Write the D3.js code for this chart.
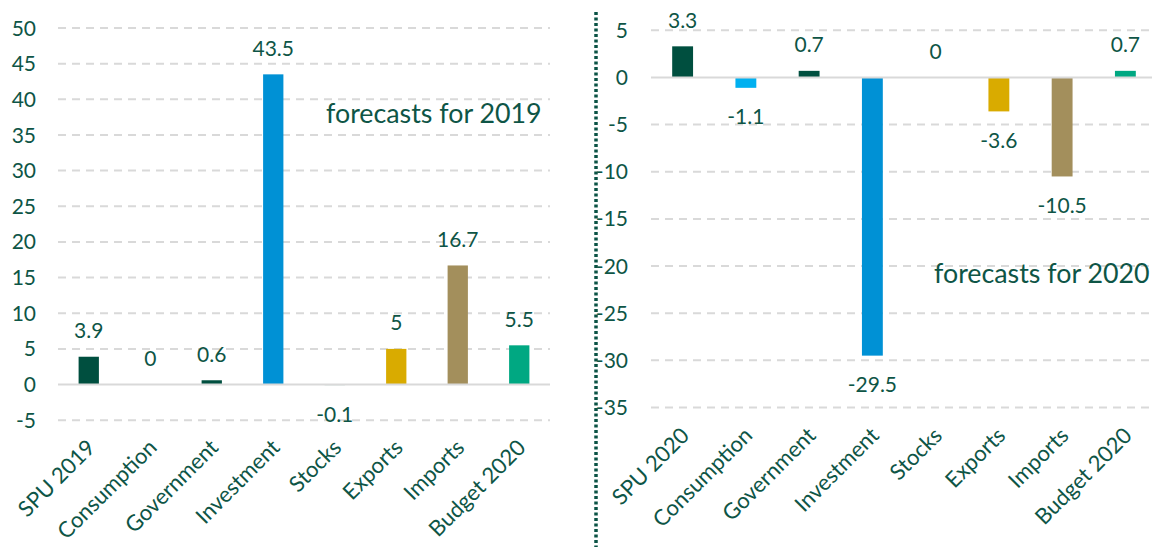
<!DOCTYPE html>
<html lang="en">
  <head>
    <meta charset="UTF-8" />
    <script src="https://d3js.org/d3.v7.min.js"></script>
    <title>Forecast contributions</title>
    <style>
      body { margin: 0; background: #fff; }
      text { font-family: Lato, "Open Sans", sans-serif; fill: #0e5546; }
      .tick-label { font-size: 21px; }
      .value-label { font-size: 21px; }
      .cat-label { font-size: 22px; }
      .note { font-size: 26.8px; }
    </style>
  </head>
  <body>
    <svg id="chart" width="1152" height="547"></svg>
    <script>
      // Left panel: forecasts for 2019
      const categories2019 = ["SPU 2019", "Consumption", "Government", "Investment", "Stocks", "Exports", "Imports", "Budget 2020"];
      const values2019 = [3.9, 0, 0.6, 43.5, -0.1, 5, 16.7, 5.5];
      const ticks2019 = [-5, 0, 5, 10, 15, 20, 25, 30, 35, 40, 45, 50];

      // Right panel: forecasts for 2020
      const categories2020 = ["SPU 2020", "Consumption", "Government", "Investment", "Stocks", "Exports", "Imports", "Budget 2020"];
      const values2020 = [3.3, -1.1, 0.7, -29.5, 0, -3.6, -10.5, 0.7];
      const ticks2020 = [-35, -30, -25, -20, -15, -10, -5, 0, 5];

      const colors2019 = ["#004f3f", "#00b0f0", "#004f3f", "#0091d5", "#a9c7c2", "#d9ab00", "#a38f5c", "#00a882"];
      const colors2020 = ["#004f3f", "#00b0f0", "#004f3f", "#0091d5", "#a9c7c2", "#d9ab00", "#a38f5c", "#00a882"];

      const svg = d3.select("#chart");

      function drawPanel(opt) {
        const g = svg.append("g");

        const x = d3.scaleBand().domain(opt.categories).range(opt.xRange).paddingInner(0.67).paddingOuter(0.335);
        const y = d3.scaleLinear().domain(opt.domain).range(opt.yRange);

        // dashed gridlines
        g.selectAll(".grid")
          .data(opt.ticks.filter((t) => t !== 0))
          .enter()
          .append("line")
          .attr("x1", opt.xRange[0])
          .attr("x2", Math.min(opt.xRange[1], 1152))
          .attr("y1", (d) => y(d))
          .attr("y2", (d) => y(d))
          .attr("stroke", "#d9d9d9")
          .attr("stroke-width", 2)
          .attr("stroke-dasharray", "8 6");

        // tick labels
        g.selectAll(".tick-label")
          .data(opt.ticks)
          .enter()
          .append("text")
          .attr("class", "tick-label")
          .attr("x", opt.tickX)
          .attr("y", (d) => y(d))
          .attr("dy", "0.36em")
          .attr("text-anchor", "end")
          .text((d) => d);

        // bars
        g.selectAll(".bar")
          .data(opt.values)
          .enter()
          .append("rect")
          .attr("x", (d, i) => x(opt.categories[i]))
          .attr("width", x.bandwidth())
          .attr("y", (d) => y(Math.max(0, d)))
          .attr("height", (d) => Math.abs(y(d) - y(0)))
          .attr("fill", (d, i) => opt.colors[i]);

        // zero line
        g.append("line")
          .attr("x1", opt.xRange[0])
          .attr("x2", Math.min(opt.xRange[1], 1152))
          .attr("y1", y(0))
          .attr("y2", y(0))
          .attr("stroke", "#d9d9d9")
          .attr("stroke-width", 2);

        // value labels
        g.selectAll(".value-label")
          .data(opt.values)
          .enter()
          .append("text")
          .attr("class", "value-label")
          .attr("x", (d, i) => x(opt.categories[i]) + x.bandwidth() / 2)
          .attr("y", (d) => (d >= 0 ? y(d) - 26 : y(d) + 29))
          .attr("dy", "0.36em")
          .attr("text-anchor", "middle")
          .text((d) => d);

        // category labels
        g.selectAll(".cat-label")
          .data(opt.categories)
          .enter()
          .append("text")
          .attr("class", "cat-label")
          .attr("transform", (d) => `translate(${x(d) + x.bandwidth() / 2 - 3},${opt.labelY}) rotate(-45)`)
          .attr("text-anchor", "end")
          .attr("dy", "0.7em")
          .text((d) => d);

        g.append("text")
          .attr("class", "note")
          .attr("x", opt.noteX)
          .attr("y", opt.noteY)
          .text(opt.note);
      }

      drawPanel({
        categories: categories2019,
        values: values2019,
        ticks: ticks2019,
        colors: colors2019,
        domain: [-5, 50],
        xRange: [58, 550],
        yRange: [420.2, 28],
        tickX: 36,
        labelY: 438,
        note: "forecasts for 2019",
        noteX: 326,
        noteY: 123,
      });

      drawPanel({
        categories: categories2020,
        values: values2020,
        ticks: ticks2020,
        colors: colors2020,
        domain: [-35, 5],
        xRange: [651, 1157],
        yRange: [407.5, 30.3],
        tickX: 628,
        labelY: 426,
        note: "forecasts for 2020",
        noteX: 934,
        noteY: 283,
      });

      // dotted divider / right axis
      svg.append("line")
        .attr("x1", 596)
        .attr("x2", 596)
        .attr("y1", 12)
        .attr("y2", 547)
        .attr("stroke", "#0b5345")
        .attr("stroke-width", 3.5)
        .attr("stroke-dasharray", "3 2.5");
    </script>
  </body>
</html>
